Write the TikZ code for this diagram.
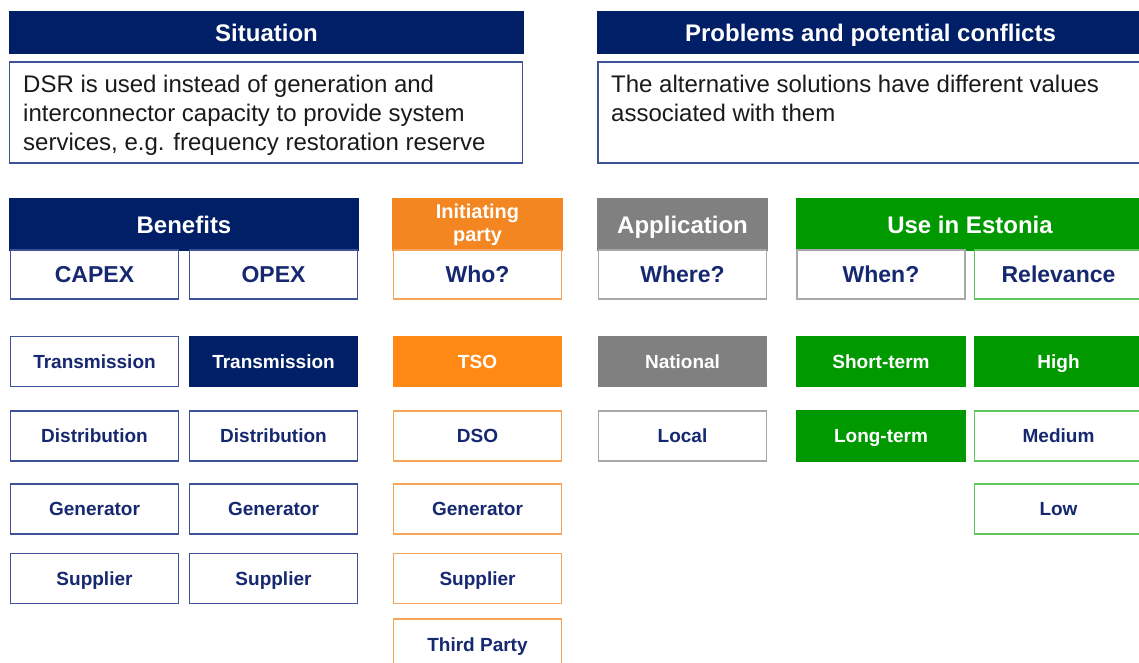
\documentclass[tikz,border=0pt]{standalone}
\usepackage{fontspec}
\setmainfont{Liberation Sans}
\definecolor{navy}{RGB}{0,31,102}
\definecolor{navyline}{RGB}{62,82,150}
\definecolor{navytext}{RGB}{22,40,112}
\definecolor{orangehead}{RGB}{243,134,32}
\definecolor{orangefill}{RGB}{255,137,20}
\definecolor{orangeline}{RGB}{245,165,90}
\definecolor{grayfill}{RGB}{128,128,128}
\definecolor{grayline}{RGB}{168,168,168}
\definecolor{greenfill}{RGB}{0,153,0}
\definecolor{greenline}{RGB}{95,198,95}
\definecolor{bodytext}{RGB}{26,26,26}
\begin{document}
\begin{tikzpicture}[x=1pt,y=-1pt,
  box/.style={rectangle,inner sep=0pt,outer sep=0pt,line width=1.3pt,align=center},
  headfont/.style={font=\bfseries\fontsize{24}{28}\selectfont,text height=17.2pt,text depth=0pt},
  subfont/.style={font=\bfseries\fontsize{23}{27}\selectfont,text height=16.5pt,text depth=0pt},
  cellfont/.style={font=\bfseries\fontsize{19}{23}\selectfont,text height=13.6pt,text depth=0pt},
  cellsize/.style={minimum width=168pt,minimum height=50pt},
  navyhead/.style={box,fill=navy,draw=navy,text=white,headfont},
  orangehead/.style={box,fill=orangehead,draw=orangehead,text=white},
  grayhead/.style={box,fill=grayfill,draw=grayfill,text=white,headfont},
  greenhead/.style={box,fill=greenfill,draw=greenfill,text=white,headfont},
  navysub/.style={box,fill=white,draw=navyline,text=navytext,subfont,cellsize,minimum height=49pt},
  orangesub/.style={box,fill=white,draw=orangeline,text=navytext,subfont,cellsize,minimum height=49pt},
  graysub/.style={box,fill=white,draw=grayline,text=navytext,subfont,cellsize,minimum height=49pt},
  greensub/.style={box,fill=white,draw=greenline,text=navytext,subfont,cellsize,minimum height=49pt},
  navycell/.style={box,fill=white,draw=navyline,text=navytext,cellfont,cellsize},
  navyfull/.style={box,fill=navy,draw=navy,text=white,cellfont,cellsize},
  orangecell/.style={box,fill=white,draw=orangeline,text=navytext,cellfont,cellsize},
  orangefull/.style={box,fill=orangefill,draw=orangefill,text=white,cellfont,cellsize},
  graycell/.style={box,fill=white,draw=grayline,text=navytext,cellfont,cellsize},
  grayfull/.style={box,fill=grayfill,draw=grayfill,text=white,cellfont,cellsize},
  greencell/.style={box,fill=white,draw=greenline,text=navytext,cellfont,cellsize},
  greenfull/.style={box,fill=greenfill,draw=greenfill,text=white,cellfont,cellsize},
  textbox/.style={box,fill=white,draw=navyline,minimum height=101pt},
  bodyfont/.style={font=\fontsize{24}{29}\selectfont,text=bodytext,inner sep=0pt,anchor=north west,align=left}
]
\useasboundingbox (0,0) rectangle (1139,662);
\clip (0,0) rectangle (1139,662);

% top row
\node[navyhead,minimum width=513pt,minimum height=41pt] (sit) at (266.5,32.5) {Situation};
\node[textbox,minimum width=513pt] (sitbox) at (266,112.5) {};
\node[bodyfont] (sittext) at (23,74.5) {DSR is used instead of generation and\\interconnector capacity to provide system\\services, e.g. frequency restoration reserve};

\node[navyhead,minimum width=545pt,minimum height=41pt] (prob) at (870.5,32.5) {Problems and potential conflicts};
\node[textbox,minimum width=545pt] (probbox) at (870.5,112.5) {};
\node[bodyfont] (probtext) at (611,74.5) {The alternative solutions have different values\\associated with them};

% category headers
\node[navyhead,minimum width=348pt,minimum height=51pt] (ben) at (184,224.5) {Benefits};
\node[orangehead,minimum width=169pt,minimum height=51pt,font=\bfseries\fontsize{20}{23}\selectfont] (init) at (477.5,224.5) {Initiating\\party};
\node[grayhead,minimum width=169pt,minimum height=51pt] (app) at (682.5,224.5) {Application};
\node[greenhead,minimum width=346pt,minimum height=51pt] (use) at (970,224.5) {Use in Estonia};

% sub headers
\node[navysub] (capex) at (94.5,274.5) {CAPEX};
\node[navysub] (opex) at (273.5,274.5) {OPEX};
\node[orangesub] (who) at (477.5,274.5) {Who?};
\node[graysub] (where) at (682.5,274.5) {Where?};
\node[graysub] (when) at (881,274.5) {When?};
\node[greensub] (rel) at (1058.5,274.5) {Relevance};

% row 1
\node[navycell] (c1) at (94.5,361.5) {Transmission};
\node[navyfull] (o1) at (273.5,361.5) {Transmission};
\node[orangefull] (w1) at (477.5,361.5) {TSO};
\node[grayfull] (a1) at (682.5,361.5) {National};
\node[greenfull] (t1) at (881,361.5) {Short-term};
\node[greenfull] (r1) at (1058.5,361.5) {High};

% row 2
\node[navycell] (c2) at (94.5,436) {Distribution};
\node[navycell] (o2) at (273.5,436) {Distribution};
\node[orangecell] (w2) at (477.5,436) {DSO};
\node[graycell] (a2) at (682.5,436) {Local};
\node[greenfull] (t2) at (881,436) {Long-term};
\node[greencell] (r2) at (1058.5,436) {Medium};

% row 3
\node[navycell] (c3) at (94.5,509) {Generator};
\node[navycell] (o3) at (273.5,509) {Generator};
\node[orangecell] (w3) at (477.5,509) {Generator};
\node[greencell] (r3) at (1058.5,509) {Low};

% row 4
\node[navycell] (c4) at (94.5,578.5) {Supplier};
\node[navycell] (o4) at (273.5,578.5) {Supplier};
\node[orangecell] (w4) at (477.5,578.5) {Supplier};

% row 5
\node[orangecell,minimum height=51pt] (w5) at (477.5,644.5) {Third Party};
\end{tikzpicture}
\end{document}
